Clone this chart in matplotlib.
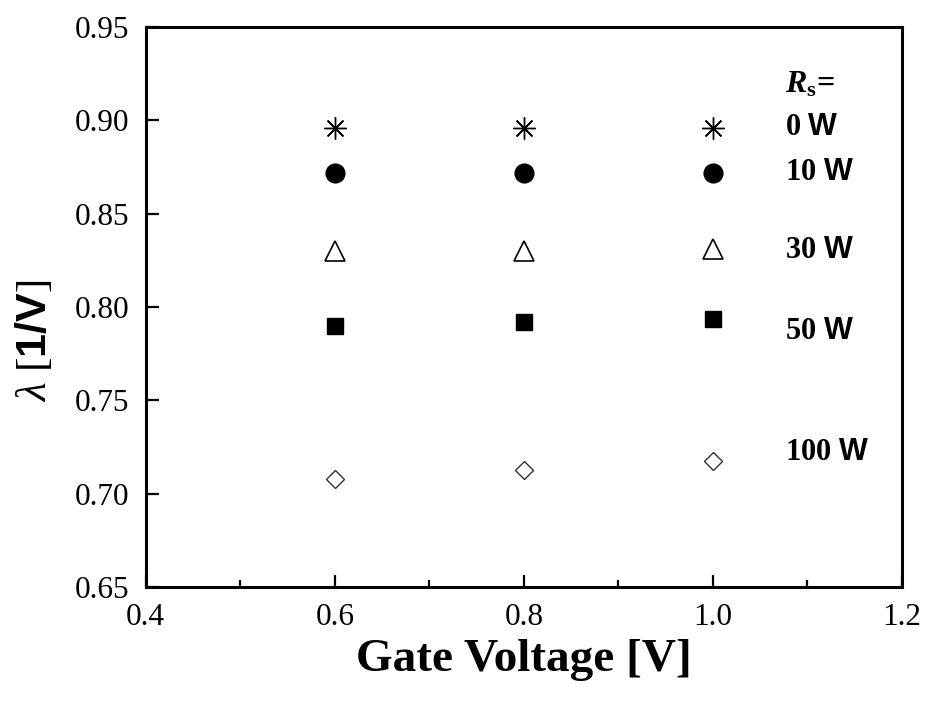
import matplotlib
matplotlib.use("Agg")
import matplotlib.pyplot as plt
from matplotlib.ticker import MultipleLocator, FormatStrFormatter

# データ
gate_voltage = [0.6, 0.8, 1.0]
lam_0 = [0.896, 0.896, 0.896]
lam_10 = [0.872, 0.872, 0.872]
lam_30 = [0.830, 0.830, 0.831]
lam_50 = [0.790, 0.792, 0.7935]
lam_100 = [0.708, 0.7127, 0.7175]

rs_labels = ["0", "10", "30", "50", "100"]
label_y = [0.896, 0.872, 0.830, 0.787, 0.722]

# fontの設定
plt.rcParams["font.family"] = ["Liberation Serif", "DejaVu Serif"]
plt.rcParams["mathtext.fontset"] = "custom"
plt.rcParams["mathtext.rm"] = "Liberation Serif"
plt.rcParams["mathtext.it"] = "Liberation Serif:italic"
plt.rcParams["mathtext.bf"] = "Liberation Serif:bold"
plt.rcParams["mathtext.bfit"] = "Liberation Serif:italic:bold"
plt.rcParams["mathtext.sf"] = "Liberation Sans:bold"

fig = plt.figure(figsize=(9.28, 7.05), dpi=100)
ax = fig.add_axes([0.157, 0.167, 0.815, 0.795])

ax.plot(gate_voltage, lam_0, linestyle="none", marker=(8, 2, 0),
        markersize=16, color="black", markeredgewidth=1.0)
ax.plot(gate_voltage, lam_10, linestyle="none", marker="o",
        markersize=13.5, color="black")
ax.plot(gate_voltage, lam_30, linestyle="none", marker="^",
        markersize=14, markerfacecolor="white", markeredgecolor="black",
        markeredgewidth=1.2)
ax.plot(gate_voltage, lam_50, linestyle="none", marker="s",
        markersize=12, color="black")
ax.plot(gate_voltage, lam_100, linestyle="none", marker="D",
        markersize=9.5, markerfacecolor="white", markeredgecolor="#333333",
        markeredgewidth=1.0)

# 凡例の代わりのラベル
ax.text(1.076, 0.919, r"$\mathbfit{R}_\mathbf{s}$=", fontsize=23,
        fontweight="bold", va="center", ha="left")
for lab, y in zip(rs_labels, label_y):
    ax.text(1.076, y, lab + r" $\mathsf{W}$", fontsize=22,
            fontweight="bold", va="center", ha="left")

# 軸の範囲
ax.set_xlim(0.4, 1.2)
ax.set_ylim(0.65, 0.95)
ax.xaxis.set_major_locator(MultipleLocator(0.2))
ax.xaxis.set_minor_locator(MultipleLocator(0.1))
ax.yaxis.set_major_locator(MultipleLocator(0.05))
ax.xaxis.set_major_formatter(FormatStrFormatter("%.1f"))
ax.yaxis.set_major_formatter(FormatStrFormatter("%.2f"))

ax.tick_params(which="both", direction="in", width=1.6, labelsize=22.5)
ax.tick_params(axis="x", which="major", length=9, pad=11)
ax.tick_params(axis="x", which="minor", length=5)
ax.tick_params(axis="y", which="major", length=9, pad=12)
for s in ax.spines.values():
    s.set_linewidth(2.2)

# ラベル
ax.set_xlabel("Gate Voltage [V]", fontsize=34, fontweight="bold")
ax.xaxis.set_label_coords(0.5, -0.093)
ax.set_ylabel(r"$\lambda$ [$\mathsf{1/V}$]", fontsize=31)
ax.yaxis.set_label_coords(-0.12, 0.44)

plt.savefig("out.png", dpi=100)
